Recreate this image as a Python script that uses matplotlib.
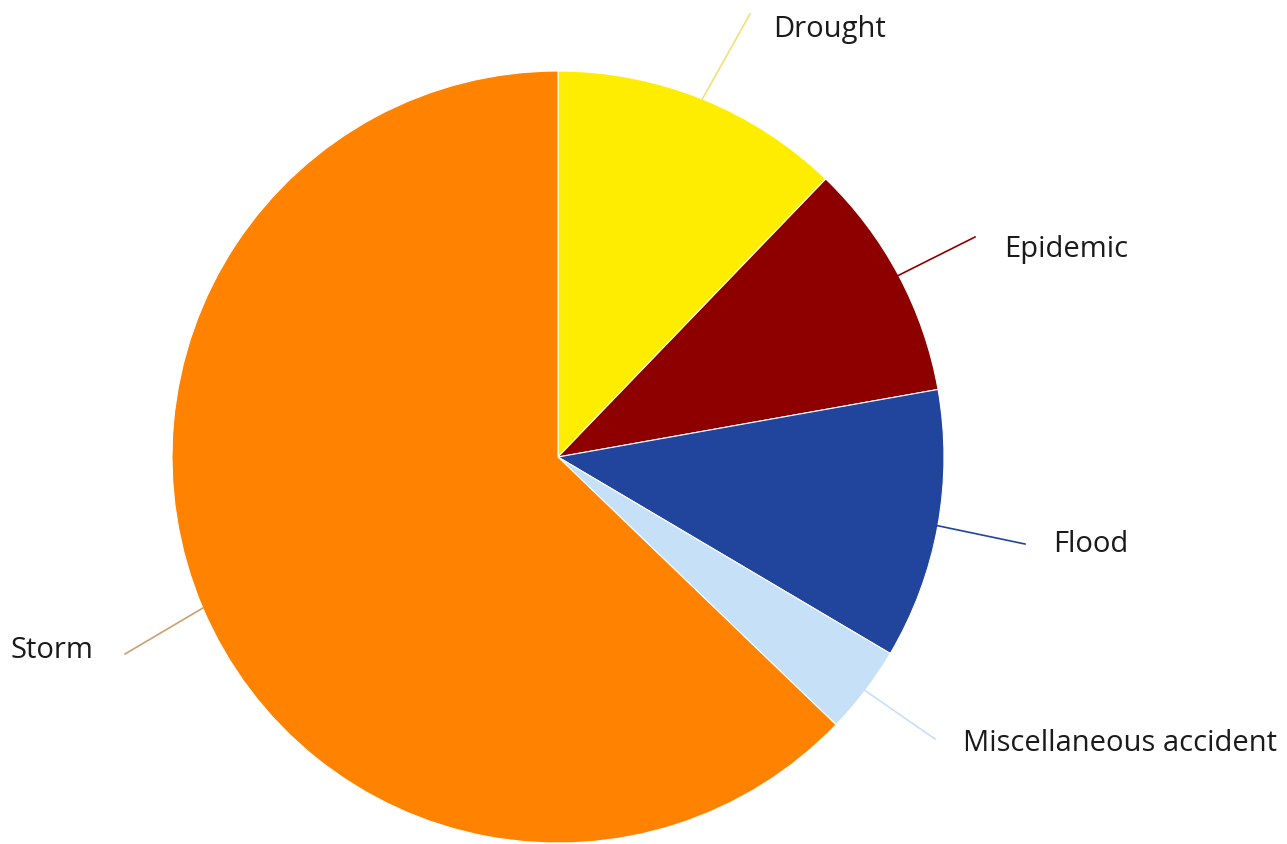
import math
import matplotlib
matplotlib.use("Agg")
import matplotlib.pyplot as plt

# slice data, clockwise from 12 o'clock
labels = ["Drought", "Epidemic", "Flood", "Miscellaneous accident", "Storm"]
shares = [12.2, 10.0, 11.3, 3.7, 62.8]
colors = ["#FFED00", "#8E0000", "#21449C", "#C6E0F7", "#FF8300"]
line_colors = ["#EEE27A", "#8E0000", "#21449C", "#C6E0F7", "#C9A070"]

W, H = 1287, 845
cx, cy, R = 558, H - 458, 386

# where each leader line ends and where its text sits (pixel layout, y up)
line_ends = [(750, 830), (975, 607), (1025, 300), (935, 105), (125, 190)]
text_pos = [(773, 816), (1004, 596), (1053, 300), (963, 101), (10, 194)]

plt.rcParams['font.family'] = ['Open Sans', 'DejaVu Sans']

fig = plt.figure(figsize=(W / 100, H / 100), dpi=100)
ax = fig.add_axes([0, 0, 1, 1])

wedges, _ = ax.pie(shares, colors=colors, startangle=90, counterclock=False,
                   center=(cx, cy), radius=R, frame=True,
                   wedgeprops=dict(edgecolor='white', linewidth=0.8))
ax.set_xlim(0, W)
ax.set_ylim(0, H)
ax.set_aspect('equal')
ax.axis('off')

for w, lab, lc, (ex, ey), (tx, ty) in zip(wedges, labels, line_colors, line_ends, text_pos):
    mid = math.radians((w.theta1 + w.theta2) / 2)
    sx = cx + R * math.cos(mid)
    sy = cy + R * math.sin(mid)
    ax.plot([sx, ex], [sy, ey], color=lc, lw=1.2)
    ax.text(tx, ty, lab, fontsize=21, color='#1a1a1a', ha='left', va='center')

fig.savefig("out.png", dpi=100)
